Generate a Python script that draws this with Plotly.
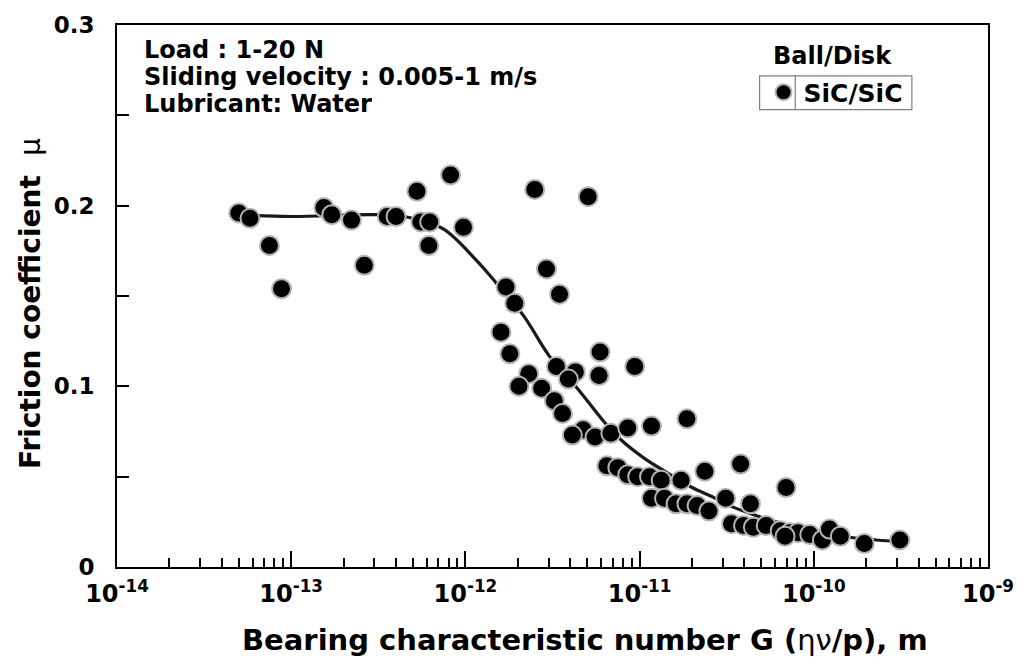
import plotly.graph_objects as go

# Scatter data: bearing characteristic number G (m) and friction coefficient
G_vals = [5.0e-14, 5.8e-14, 7.5e-14, 8.8e-14, 1.54e-13, 1.71e-13, 2.22e-13, 2.63e-13,
          3.56e-13, 4.0e-13, 5.27e-13, 5.55e-13, 6.24e-13, 6.17e-13, 8.22e-13, 9.75e-13,
          2.50e-12, 5.07e-12, 1.71e-12, 1.92e-12, 2.92e-12, 3.47e-12, 1.60e-12, 1.80e-12,
          5.93e-12, 9.38e-12, 3.33e-12, 4.28e-12, 2.31e-12, 3.90e-12, 5.85e-12, 2.03e-12,
          2.74e-12, 3.24e-12, 3.61e-12, 4.74e-12, 4.11e-12, 5.55e-12, 6.84e-12, 8.55e-12,
          1.17e-11, 1.87e-11, 6.49e-12, 7.50e-12, 8.55e-12, 9.75e-12, 1.14e-11, 1.33e-11,
          1.73e-11, 2.37e-11, 3.80e-11, 6.93e-11, 1.17e-11, 1.39e-11, 1.62e-11, 1.87e-11,
          2.14e-11, 2.50e-11, 3.12e-11, 4.33e-11, 3.37e-11, 3.95e-11, 4.50e-11, 5.33e-11,
          6.41e-11, 7.31e-11, 8.11e-11, 9.48e-11, 1.12e-10, 1.23e-10, 1.42e-10, 1.95e-10,
          3.12e-10, 6.84e-11]
mu_vals = [0.196, 0.193, 0.178, 0.154, 0.199, 0.195, 0.192, 0.167,
           0.194, 0.194, 0.208, 0.191, 0.191, 0.178, 0.217, 0.188,
           0.209, 0.205, 0.155, 0.146, 0.165, 0.151, 0.130, 0.118,
           0.119, 0.111, 0.111, 0.108, 0.107, 0.104, 0.106, 0.100,
           0.099, 0.092, 0.085, 0.076, 0.073, 0.072, 0.074, 0.077,
           0.078, 0.082, 0.056, 0.055, 0.051, 0.050, 0.050, 0.048,
           0.048, 0.053, 0.057, 0.044, 0.038, 0.038, 0.035, 0.035,
           0.034, 0.031, 0.038, 0.035, 0.024, 0.023, 0.022, 0.023,
           0.020, 0.019, 0.019, 0.018, 0.015, 0.021, 0.017, 0.013,
           0.015, 0.017]

# Fitted trend line
curve_G = [5.0e-14, 1.0e-13, 3.16e-13, 5.0e-13, 7.5e-13, 1.15e-12, 1.51e-12,
           2.16e-12, 3.02e-12, 4.47e-12, 6.3e-12, 7.9e-12, 1.07e-11, 1.45e-11, 2.0e-11,
           2.6e-11, 3.47e-11, 6.6e-11, 1.46e-10, 3.12e-10]
curve_mu = [0.195, 0.194, 0.195, 0.193, 0.187, 0.170, 0.157,
            0.139, 0.117, 0.098, 0.080, 0.070, 0.060, 0.052, 0.044,
            0.039, 0.033, 0.024, 0.017, 0.014]

x_major = [1e-14, 1e-13, 1e-12, 1e-11, 1e-10, 1e-9]
x_major_text = ["10<sup>-14</sup>", "10<sup>-13</sup>", "10<sup>-12</sup>",
                "10<sup>-11</sup>", "10<sup>-10</sup>", "10<sup>-9</sup>"]
y_major = [0, 0.1, 0.2, 0.3]
y_major_text = ["0", "0.1", "0.2", "0.3"]
y_minor = [0.05, 0.15, 0.25]

info_lines = ["Load : 1-20 N", "Sliding velocity : 0.005-1 m/s", "Lubricant: Water"]

FONT = "DejaVu Sans, Verdana, sans-serif"

x_minor = [m * d for d in x_major[:-1] for m in range(2, 10)]

fig = go.Figure()
fig.add_trace(go.Scatter(
    x=curve_G, y=curve_mu, mode="lines",
    line=dict(color="#1a1a1a", width=3.2, shape="spline", smoothing=1.0),
    showlegend=False, hoverinfo="skip"))
fig.add_trace(go.Scatter(
    x=G_vals, y=mu_vals, mode="markers", name="SiC/SiC",
    marker=dict(color="black", size=19, line=dict(color="#b4b4b4", width=2))))

fig.update_layout(
    width=1026, height=662,
    margin=dict(l=117, r=28, t=23, b=95),
    paper_bgcolor="white", plot_bgcolor="white",
    font=dict(family=FONT, color="black", size=22, weight="bold"),
    showlegend=True,
    legend=dict(x=0.7423, y=0.918, xanchor="left", yanchor="top",
                borderwidth=0, bgcolor="rgba(0,0,0,0)",
                font=dict(size=25, family=FONT, weight="bold"),
                itemsizing="trace", tracegroupgap=0),
)
fig.update_xaxes(
    type="log", range=[-14, -9],
    showline=True, linecolor="black", linewidth=2, mirror=True,
    showgrid=False, zeroline=False,
    tickmode="array", tickvals=x_major, ticktext=x_major_text,
    ticks="inside", ticklen=16, tickwidth=1.5, tickcolor="black",
    ticklabelstandoff=4,
    tickfont=dict(size=24, family=FONT, weight="bold"),
    minor=dict(tickmode="array", tickvals=x_minor, ticks="inside",
               ticklen=9, tickwidth=1.5, tickcolor="black", showgrid=False),
)
fig.update_yaxes(
    range=[0, 0.3],
    showline=True, linecolor="black", linewidth=2, mirror=True,
    showgrid=False, zeroline=False,
    tickmode="array", tickvals=y_major, ticktext=y_major_text,
    ticks="inside", ticklen=12, tickwidth=1.5, tickcolor="black",
    ticklabelstandoff=16,
    tickfont=dict(size=23, family=FONT, weight="bold"),
    minor=dict(tickmode="array", tickvals=y_minor, ticks="inside",
               ticklen=12, tickwidth=1.5, tickcolor="black", showgrid=False),
)

# axis titles
fig.add_annotation(xref="paper", yref="paper", x=0.537, y=-0.134,
                   text="Bearing characteristic number G (<span style='font-weight:normal'>ην</span>/p), m",
                   showarrow=False, xanchor="center", yanchor="middle",
                   font=dict(size=29, family=FONT, weight="bold"))
fig.add_annotation(xref="paper", yref="paper", x=-0.1, y=0.487,
                   text="Friction coefficient  <span style='font-weight:normal'>μ</span>",
                   textangle=-90, showarrow=False, xanchor="center", yanchor="middle",
                   font=dict(size=28, family=FONT, weight="bold"))

# info text
for t, yy in zip(info_lines, [0.954, 0.904, 0.855]):
    fig.add_annotation(xref="paper", yref="paper", x=0.029, y=yy, text=t,
                       showarrow=False, xanchor="left", yanchor="middle",
                       font=dict(size=24, family=FONT, weight="bold"))

# legend title
fig.add_annotation(xref="paper", yref="paper", x=0.822, y=0.943, text="Ball/Disk",
                   showarrow=False, xanchor="center", yanchor="middle",
                   font=dict(size=24, family=FONT, weight="bold"))
# legend frame and divider
fig.add_shape(type="rect", xref="paper", yref="paper", x0=0.7378, x1=0.9126,
              y0=0.8438, y1=0.9063, line=dict(color="#808080", width=1.2))
fig.add_shape(type="line", xref="paper", yref="paper", x0=0.7787, x1=0.7787,
              y0=0.8438, y1=0.9063, line=dict(color="#808080", width=1.2))

fig.write_html("out.html")
